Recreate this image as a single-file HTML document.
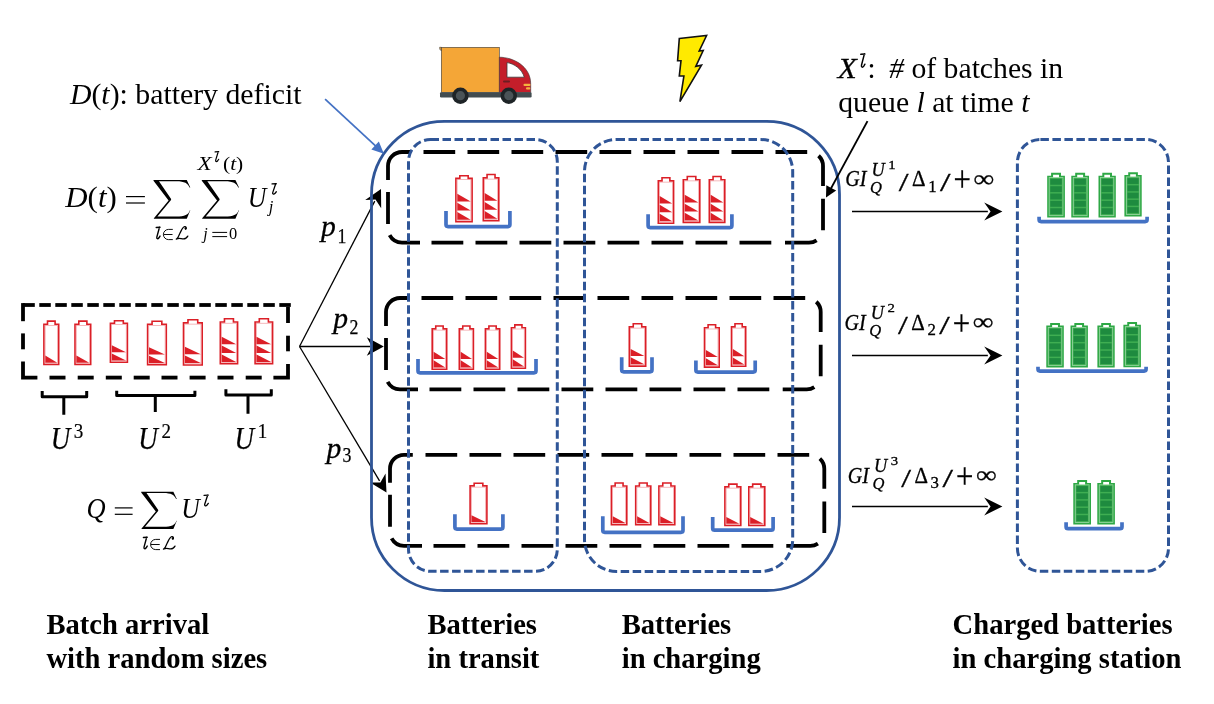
<!DOCTYPE html><html><head><meta charset="utf-8"><style>html,body{margin:0;padding:0;background:#fff;overflow:hidden}svg{display:block;will-change:transform}text{font-family:"Liberation Serif",serif}</style></head><body>
<svg width="1214" height="704" viewBox="0 0 1214 704">
<rect width="1214" height="704" fill="#fff"/>
<line x1="299.5" y1="346.5" x2="374.75" y2="201.08" stroke="#000" stroke-width="1.3"/>
<path d="M381 189L381.18 208.23L375.53 199.57L365.19 199.96Z" fill="#000"/>
<line x1="299.5" y1="346.5" x2="370.2" y2="346.5" stroke="#000" stroke-width="1.3"/>
<path d="M383.8 346.5L366.8 355.7L371.9 346.5L366.8 337.3Z" fill="#000"/>
<line x1="299.5" y1="346.5" x2="379.54" y2="480.91" stroke="#000" stroke-width="1.3"/>
<path d="M386.5 492.6L370.07 482.6L380.41 482.38L385.53 473.39Z" fill="#000"/>
<rect x="371.5" y="121.3" width="468" height="469.2" rx="73" fill="none" stroke="#2F5597" stroke-width="2.8"/>
<path d="M388 180V166A14 14 0 0 1 402 152H410.8M423.5 152H455.2M467.5 152H499.2M511.5 152H543.2M555.5 152H587.2M599.5 152H631.2M643.5 152H675.2M687.5 152H719.2M731.5 152H763.2M775.5 152H807.2M818.55 155.76A14 14 0 0 1 823 166V186M823 198.8V230.3M816.62 240.34A14 14 0 0 1 809 242.6H785M431.5 242.6H463.3M475.5 242.6H507.3M519.5 242.6H551.3M563.5 242.6H595.3M607.5 242.6H639.3M651.5 242.6H683.3M695.5 242.6H727.3M739.5 242.6H771.3M420 242.6H402A14 14 0 0 1 389.64 235.17M388 192V224" fill="none" stroke="#000" stroke-width="3.8"/>
<path d="M386 326V312A14 14 0 0 1 400 298H408.8M421.5 298H453.2M465.5 298H497.2M509.5 298H541.2M553.5 298H585.2M597.5 298H629.2M641.5 298H673.2M685.5 298H717.2M729.5 298H761.2M773.5 298H805.2M816.25 301.76A14 14 0 0 1 820.7 312V332M820.7 344.8V376.3M814.32 387.14A14 14 0 0 1 806.7 389.4H782.7M429.5 389.4H461.3M473.5 389.4H505.3M517.5 389.4H549.3M561.5 389.4H593.3M605.5 389.4H637.3M649.5 389.4H681.3M693.5 389.4H725.3M737.5 389.4H769.3M418 389.4H400A14 14 0 0 1 387.64 381.97M386 338V370" fill="none" stroke="#000" stroke-width="3.8"/>
<path d="M390 482.8V468.8A14 14 0 0 1 404 454.8H412.8M425.5 454.8H457.2M469.5 454.8H501.2M513.5 454.8H545.2M557.5 454.8H589.2M601.5 454.8H633.2M645.5 454.8H677.2M689.5 454.8H721.2M733.5 454.8H765.2M777.5 454.8H809.2M819.85 458.56A14 14 0 0 1 824.3 468.8V488.8M824.3 501.6V533.1M817.92 543.64A14 14 0 0 1 810.3 545.9H786.3M433.5 545.9H465.3M477.5 545.9H509.3M521.5 545.9H553.3M565.5 545.9H597.3M609.5 545.9H641.3M653.5 545.9H685.3M697.5 545.9H729.3M741.5 545.9H773.3M422 545.9H404A14 14 0 0 1 391.64 538.47M390 494.8V526.8" fill="none" stroke="#000" stroke-width="3.8"/>
<rect x="408.5" y="139.5" width="148.8" height="431.8" rx="22" fill="none" stroke="#2F5597" stroke-width="3" stroke-dasharray="8.5 3.5"/>
<rect x="584.5" y="139.5" width="208.2" height="431.9" rx="32" fill="none" stroke="#2F5597" stroke-width="3" stroke-dasharray="8.5 3.5"/>
<rect x="1017.4" y="139.4" width="151.1" height="431.9" rx="23" fill="none" stroke="#2F5597" stroke-width="3" stroke-dasharray="8.5 3.5"/>
<g stroke="#000" stroke-width="3.8" fill="none">
<line x1="23" y1="305" x2="34.8" y2="305"/>
<line x1="39.3" y1="305" x2="50.8" y2="305"/>
<line x1="55.3" y1="305" x2="66.8" y2="305"/>
<line x1="71.3" y1="305" x2="82.8" y2="305"/>
<line x1="87.3" y1="305" x2="98.8" y2="305"/>
<line x1="103.3" y1="305" x2="114.8" y2="305"/>
<line x1="119.3" y1="305" x2="130.8" y2="305"/>
<line x1="135.3" y1="305" x2="146.8" y2="305"/>
<line x1="151.3" y1="305" x2="162.8" y2="305"/>
<line x1="167.3" y1="305" x2="178.8" y2="305"/>
<line x1="183.3" y1="305" x2="194.8" y2="305"/>
<line x1="199.3" y1="305" x2="210.8" y2="305"/>
<line x1="215.3" y1="305" x2="226.8" y2="305"/>
<line x1="231.3" y1="305" x2="242.8" y2="305"/>
<line x1="247.3" y1="305" x2="258.8" y2="305"/>
<line x1="263.3" y1="305" x2="274.8" y2="305"/>
<line x1="279.3" y1="305" x2="290.8" y2="305"/>
<line x1="288" y1="307" x2="288" y2="323"/>
<line x1="288" y1="335.7" x2="288" y2="351.3"/>
<path d="M288 364V377.6H273.4"/>
<line x1="245.7" y1="377.6" x2="261.7" y2="377.6"/>
<line x1="217.5" y1="377.6" x2="233.5" y2="377.6"/>
<line x1="189.6" y1="377.6" x2="205.6" y2="377.6"/>
<line x1="161.5" y1="377.6" x2="177.5" y2="377.6"/>
<line x1="133.7" y1="377.6" x2="149.7" y2="377.6"/>
<line x1="105.8" y1="377.6" x2="121.8" y2="377.6"/>
<line x1="77.7" y1="377.6" x2="93.7" y2="377.6"/>
<line x1="49.5" y1="377.6" x2="65.5" y2="377.6"/>
<path d="M37.4 377.6H23V361.5"/>
<line x1="23" y1="333.4" x2="23" y2="349.3"/>
<line x1="23" y1="321.2" x2="23" y2="303.1"/>
</g>
<g stroke="#000" stroke-width="3" fill="none" stroke-linejoin="round">
<path d="M42.2 391V396.7H86.7V391M63.8 396.7V414.7"/>
<path d="M116.7 390.7V395.5H194.9V390.7M155.3 395.5V412.1"/>
<path d="M225.9 389.2V395H271.3V389.2M248 395V413.8"/>
</g>
<path d="M43.9 324.2H47.51V321.1H55.09V324.2H58.7V364.5H43.9Z" fill="#fff" stroke="#DB1F27" stroke-width="1.6"/>
<rect x="45.1" y="325.4" width="12.4" height="37.9" fill="none" stroke="#EE8A8F" stroke-width="0.6"/>
<path d="M45.3 355.48L45.3 362.68L57.3 362.68Z" fill="#DB1F27"/>
<path d="M75 324.2H78.81V321.1H86.89V324.2H90.7V364.5H75Z" fill="#fff" stroke="#DB1F27" stroke-width="1.6"/>
<rect x="76.2" y="325.4" width="13.3" height="37.9" fill="none" stroke="#EE8A8F" stroke-width="0.6"/>
<path d="M76.4 355.48L76.4 362.68L89.3 362.68Z" fill="#DB1F27"/>
<path d="M110.4 323.3H114.49V320.7H123.31V323.3H127.4V362.2H110.4Z" fill="#fff" stroke="#DB1F27" stroke-width="1.6"/>
<rect x="111.6" y="324.5" width="14.6" height="36.5" fill="none" stroke="#EE8A8F" stroke-width="0.6"/>
<path d="M111.8 353.51L111.8 360.47L126 360.47Z" fill="#DB1F27"/>
<path d="M111.8 345.28L111.8 352.24L126 352.24Z" fill="#DB1F27"/>
<path d="M147.6 324.3H152.07V321.2H161.83V324.3H166.3V364.8H147.6Z" fill="#fff" stroke="#DB1F27" stroke-width="1.6"/>
<rect x="148.8" y="325.5" width="16.3" height="38.1" fill="none" stroke="#EE8A8F" stroke-width="0.6"/>
<path d="M149 355.73L149 362.97L164.9 362.97Z" fill="#DB1F27"/>
<path d="M149 347.18L149 354.42L164.9 354.42Z" fill="#DB1F27"/>
<path d="M183.5 322.9H187.97V319.8H197.73V322.9H202.2V365H183.5Z" fill="#fff" stroke="#DB1F27" stroke-width="1.6"/>
<rect x="184.7" y="324.1" width="16.3" height="39.7" fill="none" stroke="#EE8A8F" stroke-width="0.6"/>
<path d="M184.9 355.56L184.9 363.07L200.8 363.07Z" fill="#DB1F27"/>
<path d="M184.9 346.68L184.9 354.19L200.8 354.19Z" fill="#DB1F27"/>
<path d="M220.3 322H224.46V318.8H233.44V322H237.6V363.8H220.3Z" fill="#fff" stroke="#DB1F27" stroke-width="1.6"/>
<rect x="221.5" y="323.2" width="14.9" height="39.4" fill="none" stroke="#EE8A8F" stroke-width="0.6"/>
<path d="M221.7 354.43L221.7 361.89L236.2 361.89Z" fill="#DB1F27"/>
<path d="M221.7 345.61L221.7 353.07L236.2 353.07Z" fill="#DB1F27"/>
<path d="M221.7 336.8L221.7 344.26L236.2 344.26Z" fill="#DB1F27"/>
<path d="M255.1 322H259.3V318.8H268.4V322H272.6V363.8H255.1Z" fill="#fff" stroke="#DB1F27" stroke-width="1.6"/>
<rect x="256.3" y="323.2" width="15.1" height="39.4" fill="none" stroke="#EE8A8F" stroke-width="0.6"/>
<path d="M256.5 354.43L256.5 361.89L271.2 361.89Z" fill="#DB1F27"/>
<path d="M256.5 345.61L256.5 353.07L271.2 353.07Z" fill="#DB1F27"/>
<path d="M256.5 336.8L256.5 344.26L271.2 344.26Z" fill="#DB1F27"/>
<path d="M455.9 178.4H459.82V175.7H468.18V178.4H472.1V221.7H455.9Z" fill="#fff" stroke="#DB1F27" stroke-width="1.6"/>
<rect x="457.1" y="179.6" width="13.8" height="40.9" fill="none" stroke="#EE8A8F" stroke-width="0.6"/>
<path d="M457.3 211.98L457.3 219.69L470.7 219.69Z" fill="#DB1F27"/>
<path d="M457.3 202.86L457.3 210.57L470.7 210.57Z" fill="#DB1F27"/>
<path d="M457.3 193.74L457.3 201.45L470.7 201.45Z" fill="#DB1F27"/>
<path d="M483.3 177.9H487.06V174.5H495.04V177.9H498.8V220.7H483.3Z" fill="#fff" stroke="#DB1F27" stroke-width="1.6"/>
<rect x="484.5" y="179.1" width="13.1" height="40.4" fill="none" stroke="#EE8A8F" stroke-width="0.6"/>
<path d="M484.7 211.09L484.7 218.72L497.4 218.72Z" fill="#DB1F27"/>
<path d="M484.7 202.07L484.7 209.71L497.4 209.71Z" fill="#DB1F27"/>
<path d="M484.7 193.06L484.7 200.69L497.4 200.69Z" fill="#DB1F27"/>
<path d="M446 210.9V224.6Q446 226.6 448 226.6H507.9Q509.9 226.6 509.9 224.6V210.9" fill="none" stroke="#4472C4" stroke-width="3.7"/>
<path d="M658.3 180.9H662.02V177.7H669.88V180.9H673.6V223.2H658.3Z" fill="#fff" stroke="#DB1F27" stroke-width="1.6"/>
<rect x="659.5" y="182.1" width="12.9" height="39.9" fill="none" stroke="#EE8A8F" stroke-width="0.6"/>
<path d="M659.7 213.71L659.7 221.26L672.2 221.26Z" fill="#DB1F27"/>
<path d="M659.7 204.79L659.7 212.34L672.2 212.34Z" fill="#DB1F27"/>
<path d="M659.7 195.88L659.7 203.42L672.2 203.42Z" fill="#DB1F27"/>
<path d="M683.3 179.7H687.28V176.5H695.82V179.7H699.8V222.4H683.3Z" fill="#fff" stroke="#DB1F27" stroke-width="1.6"/>
<rect x="684.5" y="180.9" width="14.1" height="40.3" fill="none" stroke="#EE8A8F" stroke-width="0.6"/>
<path d="M684.7 212.82L684.7 220.43L698.4 220.43Z" fill="#DB1F27"/>
<path d="M684.7 203.82L684.7 211.43L698.4 211.43Z" fill="#DB1F27"/>
<path d="M684.7 194.82L684.7 202.43L698.4 202.43Z" fill="#DB1F27"/>
<path d="M709.3 179.7H713.06V176.5H721.04V179.7H724.8V222.4H709.3Z" fill="#fff" stroke="#DB1F27" stroke-width="1.6"/>
<rect x="710.5" y="180.9" width="13.1" height="40.3" fill="none" stroke="#EE8A8F" stroke-width="0.6"/>
<path d="M710.7 212.82L710.7 220.43L723.4 220.43Z" fill="#DB1F27"/>
<path d="M710.7 203.82L710.7 211.43L723.4 211.43Z" fill="#DB1F27"/>
<path d="M710.7 194.82L710.7 202.43L723.4 202.43Z" fill="#DB1F27"/>
<path d="M648.1 214.2V225.6Q648.1 227.6 650.1 227.6H729.9Q731.9 227.6 731.9 225.6V214.2" fill="none" stroke="#4472C4" stroke-width="3.7"/>
<path d="M432.2 328.9H435.74V326H443.16V328.9H446.7V369.3H432.2Z" fill="#fff" stroke="#DB1F27" stroke-width="1.6"/>
<rect x="433.4" y="330.1" width="12.1" height="38" fill="none" stroke="#EE8A8F" stroke-width="0.6"/>
<path d="M433.6 360.26L433.6 367.48L445.3 367.48Z" fill="#DB1F27"/>
<path d="M433.6 351.73L433.6 358.94L445.3 358.94Z" fill="#DB1F27"/>
<path d="M459.3 328.9H462.75V326H469.95V328.9H473.4V369.3H459.3Z" fill="#fff" stroke="#DB1F27" stroke-width="1.6"/>
<rect x="460.5" y="330.1" width="11.7" height="38" fill="none" stroke="#EE8A8F" stroke-width="0.6"/>
<path d="M460.7 360.26L460.7 367.48L472 367.48Z" fill="#DB1F27"/>
<path d="M460.7 351.73L460.7 358.94L472 358.94Z" fill="#DB1F27"/>
<path d="M485.4 328.9H488.9V326H496.2V328.9H499.7V369.3H485.4Z" fill="#fff" stroke="#DB1F27" stroke-width="1.6"/>
<rect x="486.6" y="330.1" width="11.9" height="38" fill="none" stroke="#EE8A8F" stroke-width="0.6"/>
<path d="M486.8 360.26L486.8 367.48L498.3 367.48Z" fill="#DB1F27"/>
<path d="M486.8 351.73L486.8 358.94L498.3 358.94Z" fill="#DB1F27"/>
<path d="M511.4 327.8H514.83V324.9H521.97V327.8H525.4V368.2H511.4Z" fill="#fff" stroke="#DB1F27" stroke-width="1.6"/>
<rect x="512.6" y="329" width="11.6" height="38" fill="none" stroke="#EE8A8F" stroke-width="0.6"/>
<path d="M512.8 359.16L512.8 366.38L524 366.38Z" fill="#DB1F27"/>
<path d="M512.8 350.62L512.8 357.84L524 357.84Z" fill="#DB1F27"/>
<path d="M418 359.1V370.8Q418 372.8 420 372.8H534Q536 372.8 536 370.8V359.1" fill="none" stroke="#4472C4" stroke-width="3.7"/>
<path d="M629.3 326.9H633.26V323.8H641.74V326.9H645.7V366.1H629.3Z" fill="#fff" stroke="#DB1F27" stroke-width="1.6"/>
<rect x="630.5" y="328.1" width="14" height="36.8" fill="none" stroke="#EE8A8F" stroke-width="0.6"/>
<path d="M630.7 357.34L630.7 364.35L644.3 364.35Z" fill="#DB1F27"/>
<path d="M630.7 349.05L630.7 356.06L644.3 356.06Z" fill="#DB1F27"/>
<path d="M621.7 357.3V369.8Q621.7 371.8 623.7 371.8H650Q652 371.8 652 369.8V357.3" fill="none" stroke="#4472C4" stroke-width="3.7"/>
<path d="M704.5 327.8H708.09V324.7H715.61V327.8H719.2V367.1H704.5Z" fill="#fff" stroke="#DB1F27" stroke-width="1.6"/>
<rect x="705.7" y="329" width="12.3" height="36.9" fill="none" stroke="#EE8A8F" stroke-width="0.6"/>
<path d="M705.9 358.31L705.9 365.34L717.8 365.34Z" fill="#DB1F27"/>
<path d="M705.9 350.01L705.9 357.04L717.8 357.04Z" fill="#DB1F27"/>
<path d="M731.5 326.9H734.98V323.8H742.22V326.9H745.7V366.2H731.5Z" fill="#fff" stroke="#DB1F27" stroke-width="1.6"/>
<rect x="732.7" y="328.1" width="11.8" height="36.9" fill="none" stroke="#EE8A8F" stroke-width="0.6"/>
<path d="M732.9 357.41L732.9 364.44L744.3 364.44Z" fill="#DB1F27"/>
<path d="M732.9 349.11L732.9 356.14L744.3 356.14Z" fill="#DB1F27"/>
<path d="M695.9 360.5V370.1Q695.9 372.1 697.9 372.1H753.2Q755.2 372.1 755.2 370.1V360.5" fill="none" stroke="#4472C4" stroke-width="3.7"/>
<path d="M470.1 485.9H474.15V483.2H482.85V485.9H486.9V523.7H470.1Z" fill="#fff" stroke="#DB1F27" stroke-width="1.6"/>
<rect x="471.3" y="487.1" width="14.4" height="35.4" fill="none" stroke="#EE8A8F" stroke-width="0.6"/>
<path d="M471.5 515.27L471.5 522.04L485.5 522.04Z" fill="#DB1F27"/>
<path d="M454.9 514.2V527.1Q454.9 529.1 456.9 529.1H500.9Q502.9 529.1 502.9 527.1V514.2" fill="none" stroke="#4472C4" stroke-width="3.7"/>
<path d="M611.4 486H615.14V483H623.06V486H626.8V524.8H611.4Z" fill="#fff" stroke="#DB1F27" stroke-width="1.6"/>
<rect x="612.6" y="487.2" width="13" height="36.4" fill="none" stroke="#EE8A8F" stroke-width="0.6"/>
<path d="M612.8 516.13L612.8 523.08L625.4 523.08Z" fill="#DB1F27"/>
<path d="M635.7 486H639.37V483H647.13V486H650.8V524.8H635.7Z" fill="#fff" stroke="#DB1F27" stroke-width="1.6"/>
<rect x="636.9" y="487.2" width="12.7" height="36.4" fill="none" stroke="#EE8A8F" stroke-width="0.6"/>
<path d="M637.1 516.13L637.1 523.08L649.4 523.08Z" fill="#DB1F27"/>
<path d="M658.9 486H662.75V483H670.95V486H674.8V524.8H658.9Z" fill="#fff" stroke="#DB1F27" stroke-width="1.6"/>
<rect x="660.1" y="487.2" width="13.5" height="36.4" fill="none" stroke="#EE8A8F" stroke-width="0.6"/>
<path d="M660.3 516.13L660.3 523.08L673.4 523.08Z" fill="#DB1F27"/>
<path d="M602.8 516.2V530.3Q602.8 532.3 604.8 532.3H681Q683 532.3 683 530.3V516.2" fill="none" stroke="#4472C4" stroke-width="3.7"/>
<path d="M724.9 486.9H728.75V484.1H736.95V486.9H740.8V525.5H724.9Z" fill="#fff" stroke="#DB1F27" stroke-width="1.6"/>
<rect x="726.1" y="488.1" width="13.5" height="36.2" fill="none" stroke="#EE8A8F" stroke-width="0.6"/>
<path d="M726.3 516.88L726.3 523.79L739.4 523.79Z" fill="#DB1F27"/>
<path d="M748.8 486.9H752.67V484.1H760.93V486.9H764.8V525.5H748.8Z" fill="#fff" stroke="#DB1F27" stroke-width="1.6"/>
<rect x="750" y="488.1" width="13.6" height="36.2" fill="none" stroke="#EE8A8F" stroke-width="0.6"/>
<path d="M750.2 516.88L750.2 523.79L763.4 523.79Z" fill="#DB1F27"/>
<path d="M712.7 517V528.2Q712.7 530.2 714.7 530.2H771.1Q773.1 530.2 773.1 528.2V517" fill="none" stroke="#4472C4" stroke-width="3.7"/>
<path d="M1048.2 176.7H1052.09V173.8H1060.01V176.7H1063.9V216.6H1048.2Z" fill="#fff" stroke="#2EA845" stroke-width="2.0"/>
<rect x="1049.1" y="177.6" width="13.9" height="38.1" fill="#3FAE52" stroke="#9AD6A3" stroke-width="0.7"/>
<rect x="1050.3" y="178.9" width="11.5" height="5.84" fill="#1E8B3F"/>
<rect x="1050.3" y="186.24" width="11.5" height="5.84" fill="#1E8B3F"/>
<rect x="1050.3" y="193.58" width="11.5" height="5.84" fill="#1E8B3F"/>
<rect x="1050.3" y="200.92" width="11.5" height="5.84" fill="#1E8B3F"/>
<rect x="1050.3" y="208.26" width="11.5" height="5.84" fill="#1E8B3F"/>
<path d="M1072.3 176.7H1076.19V173.8H1084.11V176.7H1088V216.6H1072.3Z" fill="#fff" stroke="#2EA845" stroke-width="2.0"/>
<rect x="1073.2" y="177.6" width="13.9" height="38.1" fill="#3FAE52" stroke="#9AD6A3" stroke-width="0.7"/>
<rect x="1074.4" y="178.9" width="11.5" height="5.84" fill="#1E8B3F"/>
<rect x="1074.4" y="186.24" width="11.5" height="5.84" fill="#1E8B3F"/>
<rect x="1074.4" y="193.58" width="11.5" height="5.84" fill="#1E8B3F"/>
<rect x="1074.4" y="200.92" width="11.5" height="5.84" fill="#1E8B3F"/>
<rect x="1074.4" y="208.26" width="11.5" height="5.84" fill="#1E8B3F"/>
<path d="M1099.5 176.7H1103.31V173.8H1110.99V176.7H1114.8V216.6H1099.5Z" fill="#fff" stroke="#2EA845" stroke-width="2.0"/>
<rect x="1100.4" y="177.6" width="13.5" height="38.1" fill="#3FAE52" stroke="#9AD6A3" stroke-width="0.7"/>
<rect x="1101.6" y="178.9" width="11.1" height="5.84" fill="#1E8B3F"/>
<rect x="1101.6" y="186.24" width="11.1" height="5.84" fill="#1E8B3F"/>
<rect x="1101.6" y="193.58" width="11.1" height="5.84" fill="#1E8B3F"/>
<rect x="1101.6" y="200.92" width="11.1" height="5.84" fill="#1E8B3F"/>
<rect x="1101.6" y="208.26" width="11.1" height="5.84" fill="#1E8B3F"/>
<path d="M1125.4 176H1129.21V173.2H1136.89V176H1140.7V215.4H1125.4Z" fill="#fff" stroke="#2EA845" stroke-width="2.0"/>
<rect x="1126.3" y="176.9" width="13.5" height="37.6" fill="#3FAE52" stroke="#9AD6A3" stroke-width="0.7"/>
<rect x="1127.5" y="178.2" width="11.1" height="5.74" fill="#1E8B3F"/>
<rect x="1127.5" y="185.44" width="11.1" height="5.74" fill="#1E8B3F"/>
<rect x="1127.5" y="192.68" width="11.1" height="5.74" fill="#1E8B3F"/>
<rect x="1127.5" y="199.92" width="11.1" height="5.74" fill="#1E8B3F"/>
<rect x="1127.5" y="207.16" width="11.1" height="5.74" fill="#1E8B3F"/>
<path d="M1039.1 216.8V219.6Q1039.1 221.6 1041.1 221.6H1145.1Q1147.1 221.6 1147.1 219.6V216.8" fill="none" stroke="#4472C4" stroke-width="3.7"/>
<path d="M1047.3 326.5H1051.15V324H1058.95V326.5H1062.8V366.5H1047.3Z" fill="#fff" stroke="#2EA845" stroke-width="2.0"/>
<rect x="1048.2" y="327.4" width="13.7" height="38.2" fill="#3FAE52" stroke="#9AD6A3" stroke-width="0.7"/>
<rect x="1049.4" y="328.7" width="11.3" height="5.86" fill="#1E8B3F"/>
<rect x="1049.4" y="336.06" width="11.3" height="5.86" fill="#1E8B3F"/>
<rect x="1049.4" y="343.42" width="11.3" height="5.86" fill="#1E8B3F"/>
<rect x="1049.4" y="350.78" width="11.3" height="5.86" fill="#1E8B3F"/>
<rect x="1049.4" y="358.14" width="11.3" height="5.86" fill="#1E8B3F"/>
<path d="M1071.5 326.5H1075.33V324H1083.07V326.5H1086.9V366.5H1071.5Z" fill="#fff" stroke="#2EA845" stroke-width="2.0"/>
<rect x="1072.4" y="327.4" width="13.6" height="38.2" fill="#3FAE52" stroke="#9AD6A3" stroke-width="0.7"/>
<rect x="1073.6" y="328.7" width="11.2" height="5.86" fill="#1E8B3F"/>
<rect x="1073.6" y="336.06" width="11.2" height="5.86" fill="#1E8B3F"/>
<rect x="1073.6" y="343.42" width="11.2" height="5.86" fill="#1E8B3F"/>
<rect x="1073.6" y="350.78" width="11.2" height="5.86" fill="#1E8B3F"/>
<rect x="1073.6" y="358.14" width="11.2" height="5.86" fill="#1E8B3F"/>
<path d="M1098.4 326.5H1102.21V324H1109.89V326.5H1113.7V366.5H1098.4Z" fill="#fff" stroke="#2EA845" stroke-width="2.0"/>
<rect x="1099.3" y="327.4" width="13.5" height="38.2" fill="#3FAE52" stroke="#9AD6A3" stroke-width="0.7"/>
<rect x="1100.5" y="328.7" width="11.1" height="5.86" fill="#1E8B3F"/>
<rect x="1100.5" y="336.06" width="11.1" height="5.86" fill="#1E8B3F"/>
<rect x="1100.5" y="343.42" width="11.1" height="5.86" fill="#1E8B3F"/>
<rect x="1100.5" y="350.78" width="11.1" height="5.86" fill="#1E8B3F"/>
<rect x="1100.5" y="358.14" width="11.1" height="5.86" fill="#1E8B3F"/>
<path d="M1124.4 325.8H1128.25V323H1136.05V325.8H1139.9V366.3H1124.4Z" fill="#fff" stroke="#2EA845" stroke-width="2.0"/>
<rect x="1125.3" y="326.7" width="13.7" height="38.7" fill="#3FAE52" stroke="#9AD6A3" stroke-width="0.7"/>
<rect x="1126.5" y="328" width="11.3" height="5.96" fill="#1E8B3F"/>
<rect x="1126.5" y="335.46" width="11.3" height="5.96" fill="#1E8B3F"/>
<rect x="1126.5" y="342.92" width="11.3" height="5.96" fill="#1E8B3F"/>
<rect x="1126.5" y="350.38" width="11.3" height="5.96" fill="#1E8B3F"/>
<rect x="1126.5" y="357.84" width="11.3" height="5.96" fill="#1E8B3F"/>
<path d="M1038 366.8V369.1Q1038 371.1 1040 371.1H1144.1Q1146.1 371.1 1146.1 369.1V366.8" fill="none" stroke="#4472C4" stroke-width="3.7"/>
<path d="M1074.3 483.9H1078.19V481H1086.11V483.9H1090V523.5H1074.3Z" fill="#fff" stroke="#2EA845" stroke-width="2.0"/>
<rect x="1075.2" y="484.8" width="13.9" height="37.8" fill="#3FAE52" stroke="#9AD6A3" stroke-width="0.7"/>
<rect x="1076.4" y="486.1" width="11.5" height="5.78" fill="#1E8B3F"/>
<rect x="1076.4" y="493.38" width="11.5" height="5.78" fill="#1E8B3F"/>
<rect x="1076.4" y="500.66" width="11.5" height="5.78" fill="#1E8B3F"/>
<rect x="1076.4" y="507.94" width="11.5" height="5.78" fill="#1E8B3F"/>
<rect x="1076.4" y="515.22" width="11.5" height="5.78" fill="#1E8B3F"/>
<path d="M1098.3 483.9H1102.17V481H1110.03V483.9H1113.9V523.5H1098.3Z" fill="#fff" stroke="#2EA845" stroke-width="2.0"/>
<rect x="1099.2" y="484.8" width="13.8" height="37.8" fill="#3FAE52" stroke="#9AD6A3" stroke-width="0.7"/>
<rect x="1100.4" y="486.1" width="11.4" height="5.78" fill="#1E8B3F"/>
<rect x="1100.4" y="493.38" width="11.4" height="5.78" fill="#1E8B3F"/>
<rect x="1100.4" y="500.66" width="11.4" height="5.78" fill="#1E8B3F"/>
<rect x="1100.4" y="507.94" width="11.4" height="5.78" fill="#1E8B3F"/>
<rect x="1100.4" y="515.22" width="11.4" height="5.78" fill="#1E8B3F"/>
<path d="M1066.1 522.2V526.7Q1066.1 528.7 1068.1 528.7H1120Q1122 528.7 1122 526.7V522.2" fill="none" stroke="#4472C4" stroke-width="3.7"/>
<line x1="852" y1="211.5" x2="987.84" y2="211.5" stroke="#000" stroke-width="1.3"/>
<path d="M1002.4 211.5L984.2 220.4L990.57 211.5L984.2 202.6Z" fill="#000"/>
<line x1="852" y1="355.5" x2="987.84" y2="355.5" stroke="#000" stroke-width="1.3"/>
<path d="M1002.4 355.5L984.2 364.4L990.57 355.5L984.2 346.6Z" fill="#000"/>
<line x1="852" y1="506.5" x2="987.84" y2="506.5" stroke="#000" stroke-width="1.3"/>
<path d="M1002.4 506.5L984.2 515.4L990.57 506.5L984.2 497.6Z" fill="#000"/>
<line x1="325.1" y1="99.2" x2="376.86" y2="147.22" stroke="#4472C4" stroke-width="1.75"/>
<path d="M383.9 153.75L371.36 149.62L375.1 145.59L378.84 141.56Z" fill="#4472C4"/>
<line x1="867.5" y1="121.1" x2="830.2" y2="189.86" stroke="#000" stroke-width="1.9"/>
<path d="M826 197.6L826.32 185.26L831.25 187.93L836.17 190.6Z" fill="#000"/>
<g stroke="#3a3a3a" stroke-width="0.6">
<rect x="441.3" y="47.3" width="58" height="45" fill="#F4A637"/>
<path d="M441.3 47.3H439.6Q439.2 49.5 441.3 50.8Z" fill="#F4A637"/>
<path d="M499.3 57.2 C513 57.2 530.7 66 530.7 84 V92.5 H499.3Z" fill="#C41E2A"/>
<path d="M507 62.6 C514 63.5 522 69 524.3 77.2 H507Z" fill="#fff" stroke="#3a3a3a" stroke-width="0.8"/>
</g>
<rect x="503" y="80.6" width="7" height="2" rx="1" fill="#6b1d22"/>
<rect x="523.5" y="83.8" width="7" height="2.2" rx="1" fill="#F4B33F"/>
<rect x="526" y="87.2" width="4.3" height="2.2" rx="1" fill="#F4B33F"/>
<rect x="440" y="92.2" width="91.6" height="5.3" rx="1.2" fill="#424C50"/>
<circle cx="460.4" cy="95.7" r="8.2" fill="#1E2427"/><circle cx="460.4" cy="95.7" r="4.6" fill="#4A5357"/>
<circle cx="508.8" cy="95.7" r="8.2" fill="#1E2427"/><circle cx="508.8" cy="95.7" r="4.6" fill="#4A5357"/>
<path d="M679.3 38.5L706.6 35.5L699.2 51L703.2 50.5L695.8 66.4L701.5 65.2L679.9 101.6L683.9 76L679.3 76L681 60.7L677.6 60.7Z" fill="#FFEA00" stroke="#111" stroke-width="1.6" stroke-linejoin="miter"/>
<text x="69.9" y="103.9" font-size="29.8" ><tspan font-style="italic">D</tspan>(<tspan font-style="italic">t</tspan>): battery deficit</text>
<text x="837.7" y="77.6" font-size="29" textLength="19" lengthAdjust="spacingAndGlyphs" font-style="italic" stroke="#000" stroke-width="0.3">X</text>
<path d="M860.82 54.34L864.91 54.06M864.34 54.06L861.48 65.26C861.04 67.36 862.58 67.78 863.77 66.1L864.91 64.14" fill="none" stroke="#000" stroke-width="1.45" stroke-linecap="round"/>
<text x="867.4" y="77.6" font-size="29" >:</text>
<text x="889.2" y="77.6" font-size="29.7" ><tspan font-style="italic">#</tspan> of batches in</text>
<text x="838.2" y="111.9" font-size="29.7" >queue <tspan font-style="italic">l</tspan> at time <tspan font-style="italic">t</tspan></text>
<text x="46.4" y="633.8" font-size="28.6" font-weight="bold">Batch arrival</text>
<text x="46.4" y="668.1" font-size="28.6" font-weight="bold">with random sizes</text>
<text x="427.4" y="633.8" font-size="28.6" font-weight="bold">Batteries</text>
<text x="427.4" y="668.1" font-size="28.6" font-weight="bold">in transit</text>
<text x="621.7" y="633.8" font-size="28.6" font-weight="bold">Batteries</text>
<text x="621.7" y="668.1" font-size="28.6" font-weight="bold">in charging</text>
<text x="952.6" y="634.2" font-size="28.6" font-weight="bold">Charged batteries</text>
<text x="952.6" y="668.1" font-size="28.6" font-weight="bold">in charging station</text>
<text x="65.3" y="206.5" font-size="28.5" textLength="51.5" lengthAdjust="spacingAndGlyphs" ><tspan font-style="italic">D</tspan>(<tspan font-style="italic">t</tspan>)</text>
<rect x="126" y="196" width="18.9" height="1.2"/><rect x="126" y="202.4" width="18.9" height="1.2"/>
<path transform="translate(153.5 179.9) scale(36.8 38.9)" d="M0 0L0.904 0L1 0.197L0.979 0.197C0.93 0.09 0.85 0.036 0.62 0.036L0.149 0.036L0.479 0.49L0.476 0.515L0.106 0.94L0.62 0.94C0.85 0.94 0.95 0.9 0.99 0.78L1 0.78L0.904 1L0.01 1L0.01 0.985L0.41 0.53L0 0.02Z" fill="#000"/>
<path transform="translate(201.8 179.9) scale(37.2 38.9)" d="M0 0L0.904 0L1 0.197L0.979 0.197C0.93 0.09 0.85 0.036 0.62 0.036L0.149 0.036L0.479 0.49L0.476 0.515L0.106 0.94L0.62 0.94C0.85 0.94 0.95 0.9 0.99 0.78L1 0.78L0.904 1L0.01 1L0.01 0.985L0.41 0.53L0 0.02Z" fill="#000"/>
<text x="247.8" y="206.7" font-size="28.5" textLength="18.6" lengthAdjust="spacingAndGlyphs" font-style="italic">U</text>
<path d="M272.03 183.97L276.31 183.74M275.71 183.74L272.72 192.62C272.26 194.29 273.87 194.62 275.11 193.29L276.31 191.74" fill="none" stroke="#000" stroke-width="1.28" stroke-linecap="round"/>
<text x="268.8" y="211.8" font-size="16.5" font-style="italic">j</text>
<text x="197.4" y="169.6" font-size="18.5" textLength="14.2" lengthAdjust="spacingAndGlyphs" font-style="italic">X</text>
<path d="M215.09 151.93L218.72 151.72M218.22 151.72L215.68 160.12C215.29 161.7 216.66 162.01 217.71 160.75L218.72 159.28" fill="none" stroke="#000" stroke-width="1.21" stroke-linecap="round"/>
<text x="223" y="170.2" font-size="18.5" textLength="20.3" lengthAdjust="spacingAndGlyphs" >(<tspan font-style="italic">t</tspan>)</text>
<path d="M156.21 227.53L160.02 227.29M159.49 227.29L156.82 237.05C156.41 238.88 157.84 239.24 158.95 237.78L160.02 236.07" fill="none" stroke="#000" stroke-width="1.4" stroke-linecap="round"/>
<g transform="translate(0 0)" fill="none" stroke="#000">
<path d="M172.8 229.4H168.5A5.1 5.1 0 0 0 168.5 239.6H172.8M163.6 234.5H172.5" stroke-width="0.95"/>
<path d="M185.6 229.2C186.8 228.2 186.2 226.4 184.6 226.6C182.4 226.9 181.2 231 179.8 233.5C178.8 235.5 178.3 237.6 177.0 238.5C176.2 239.1 175.9 239.4 176.6 239.0C179 237.8 181 238.9 183.5 238.9C185.5 238.9 187 237.6 187.8 236.1" stroke-width="1.25" stroke-linecap="round"/>
<circle cx="185.6" cy="228.4" r="1.15" fill="#000" stroke="none"/>
</g>
<text x="203.3" y="239.1" font-size="16" font-style="italic">j</text>
<rect x="212.3" y="231.9" width="14.8" height="1"/><rect x="212.3" y="236.1" width="14.8" height="1"/>
<text x="229" y="239.1" font-size="16" textLength="8.2" lengthAdjust="spacingAndGlyphs" >0</text>
<text x="86.6" y="517.7" font-size="28.5" textLength="19.1" lengthAdjust="spacingAndGlyphs" font-style="italic">Q</text>
<rect x="114.8" y="507.3" width="17.8" height="1.2"/><rect x="114.8" y="513.7" width="17.8" height="1.2"/>
<path transform="translate(141.2 491.7) scale(35.6 37.3)" d="M0 0L0.904 0L1 0.197L0.979 0.197C0.93 0.09 0.85 0.036 0.62 0.036L0.149 0.036L0.479 0.49L0.476 0.515L0.106 0.94L0.62 0.94C0.85 0.94 0.95 0.9 0.99 0.78L1 0.78L0.904 1L0.01 1L0.01 0.985L0.41 0.53L0 0.02Z" fill="#000"/>
<text x="181.3" y="517.7" font-size="28.5" textLength="18.5" lengthAdjust="spacingAndGlyphs" font-style="italic">U</text>
<path d="M204.03 495.29L208.31 495.06M207.71 495.06L204.72 504.26C204.26 505.99 205.87 506.33 207.11 504.95L208.31 503.34" fill="none" stroke="#000" stroke-width="1.32" stroke-linecap="round"/>
<path d="M143.41 537.53L147.22 537.29M146.69 537.29L144.02 547.05C143.61 548.88 145.04 549.24 146.15 547.78L147.22 546.07" fill="none" stroke="#000" stroke-width="1.4" stroke-linecap="round"/>
<g transform="translate(-12.8 310)" fill="none" stroke="#000">
<path d="M172.8 229.4H168.5A5.1 5.1 0 0 0 168.5 239.6H172.8M163.6 234.5H172.5" stroke-width="0.95"/>
<path d="M185.6 229.2C186.8 228.2 186.2 226.4 184.6 226.6C182.4 226.9 181.2 231 179.8 233.5C178.8 235.5 178.3 237.6 177.0 238.5C176.2 239.1 175.9 239.4 176.6 239.0C179 237.8 181 238.9 183.5 238.9C185.5 238.9 187 237.6 187.8 236.1" stroke-width="1.25" stroke-linecap="round"/>
<circle cx="185.6" cy="228.4" r="1.15" fill="#000" stroke="none"/>
</g>
<text x="50.7" y="448.8" font-size="31.5" textLength="19.5" lengthAdjust="spacingAndGlyphs" font-style="italic" stroke="#000" stroke-width="0.25">U</text>
<text x="73.8" y="437.9" font-size="20.6" textLength="9.5" lengthAdjust="spacingAndGlyphs"  stroke="#000" stroke-width="0.2">3</text>
<text x="138.3" y="448.8" font-size="31.5" textLength="19.5" lengthAdjust="spacingAndGlyphs" font-style="italic" stroke="#000" stroke-width="0.25">U</text>
<text x="161.4" y="437.9" font-size="20.6" textLength="9.5" lengthAdjust="spacingAndGlyphs"  stroke="#000" stroke-width="0.2">2</text>
<text x="234.6" y="448.8" font-size="31.5" textLength="19.5" lengthAdjust="spacingAndGlyphs" font-style="italic" stroke="#000" stroke-width="0.25">U</text>
<text x="257.7" y="437.9" font-size="20.6" textLength="9.5" lengthAdjust="spacingAndGlyphs"  stroke="#000" stroke-width="0.2">1</text>
<text x="320.9" y="235.6" font-size="29.5" textLength="14.8" lengthAdjust="spacingAndGlyphs" font-style="italic" stroke="#000" stroke-width="0.3">p</text>
<text x="337.6" y="242.9" font-size="20.4" textLength="8.9" lengthAdjust="spacingAndGlyphs"  stroke="#000" stroke-width="0.25">1</text>
<text x="333.2" y="328.4" font-size="29.5" textLength="14.8" lengthAdjust="spacingAndGlyphs" font-style="italic" stroke="#000" stroke-width="0.3">p</text>
<text x="349.6" y="334" font-size="20.4" textLength="8.9" lengthAdjust="spacingAndGlyphs"  stroke="#000" stroke-width="0.25">2</text>
<text x="326.6" y="457.9" font-size="29.5" textLength="14.8" lengthAdjust="spacingAndGlyphs" font-style="italic" stroke="#000" stroke-width="0.3">p</text>
<text x="342.6" y="462.2" font-size="20.4" textLength="8.9" lengthAdjust="spacingAndGlyphs"  stroke="#000" stroke-width="0.25">3</text>
<text x="845.3" y="186.3" font-size="24" textLength="21.3" lengthAdjust="spacingAndGlyphs" font-style="italic" stroke="#000" stroke-width="0.3">GI</text>
<text x="871.6" y="175.9" font-size="19.5" textLength="13.2" lengthAdjust="spacingAndGlyphs" font-style="italic" stroke="#000" stroke-width="0.3">U</text>
<text x="888.3" y="169" font-size="12.7" textLength="7.4" lengthAdjust="spacingAndGlyphs"  stroke="#000" stroke-width="0.3">1</text>
<text x="870.1" y="192.7" font-size="17" textLength="11.9" lengthAdjust="spacingAndGlyphs" font-style="italic" stroke="#000" stroke-width="0.3">Q</text>
<text x="898.8" y="191" font-size="26" textLength="9.8" lengthAdjust="spacingAndGlyphs"  stroke="#000" stroke-width="0.3">/</text>
<text x="912" y="186.3" font-size="23.5" textLength="13.5" lengthAdjust="spacingAndGlyphs"  stroke="#000" stroke-width="0.3">&#916;</text>
<text x="928.2" y="192" font-size="16.3" textLength="8.4" lengthAdjust="spacingAndGlyphs"  stroke="#000" stroke-width="0.3">1</text>
<text x="940.1" y="191" font-size="26" textLength="10.5" lengthAdjust="spacingAndGlyphs"  stroke="#000" stroke-width="0.3">/</text>
<text x="953.6" y="191.3" font-size="35" textLength="17.4" lengthAdjust="spacingAndGlyphs"  stroke="#000" stroke-width="0.3">+</text>
<text x="973.5" y="187" font-size="24.5" textLength="20.6" lengthAdjust="spacingAndGlyphs"  stroke="#000" stroke-width="0.3">&#8734;</text>
<text x="844.5" y="329.5" font-size="24" textLength="21.3" lengthAdjust="spacingAndGlyphs" font-style="italic" stroke="#000" stroke-width="0.3">GI</text>
<text x="870.8" y="319.1" font-size="19.5" textLength="13.2" lengthAdjust="spacingAndGlyphs" font-style="italic" stroke="#000" stroke-width="0.3">U</text>
<text x="887.5" y="312.2" font-size="12.7" textLength="7.4" lengthAdjust="spacingAndGlyphs"  stroke="#000" stroke-width="0.3">2</text>
<text x="869.3" y="335.9" font-size="17" textLength="11.9" lengthAdjust="spacingAndGlyphs" font-style="italic" stroke="#000" stroke-width="0.3">Q</text>
<text x="898" y="334.2" font-size="26" textLength="9.8" lengthAdjust="spacingAndGlyphs"  stroke="#000" stroke-width="0.3">/</text>
<text x="911.2" y="329.5" font-size="23.5" textLength="13.5" lengthAdjust="spacingAndGlyphs"  stroke="#000" stroke-width="0.3">&#916;</text>
<text x="927.4" y="335.2" font-size="16.3" textLength="8.4" lengthAdjust="spacingAndGlyphs"  stroke="#000" stroke-width="0.3">2</text>
<text x="939.3" y="334.2" font-size="26" textLength="10.5" lengthAdjust="spacingAndGlyphs"  stroke="#000" stroke-width="0.3">/</text>
<text x="952.8" y="334.5" font-size="35" textLength="17.4" lengthAdjust="spacingAndGlyphs"  stroke="#000" stroke-width="0.3">+</text>
<text x="972.7" y="330.2" font-size="24.5" textLength="20.6" lengthAdjust="spacingAndGlyphs"  stroke="#000" stroke-width="0.3">&#8734;</text>
<text x="847.7" y="482.5" font-size="24" textLength="21.3" lengthAdjust="spacingAndGlyphs" font-style="italic" stroke="#000" stroke-width="0.3">GI</text>
<text x="874" y="472.1" font-size="19.5" textLength="13.2" lengthAdjust="spacingAndGlyphs" font-style="italic" stroke="#000" stroke-width="0.3">U</text>
<text x="890.7" y="465.2" font-size="12.7" textLength="7.4" lengthAdjust="spacingAndGlyphs"  stroke="#000" stroke-width="0.3">3</text>
<text x="872.5" y="488.9" font-size="17" textLength="11.9" lengthAdjust="spacingAndGlyphs" font-style="italic" stroke="#000" stroke-width="0.3">Q</text>
<text x="901.2" y="487.2" font-size="26" textLength="9.8" lengthAdjust="spacingAndGlyphs"  stroke="#000" stroke-width="0.3">/</text>
<text x="914.4" y="482.5" font-size="23.5" textLength="13.5" lengthAdjust="spacingAndGlyphs"  stroke="#000" stroke-width="0.3">&#916;</text>
<text x="930.6" y="488.2" font-size="16.3" textLength="8.4" lengthAdjust="spacingAndGlyphs"  stroke="#000" stroke-width="0.3">3</text>
<text x="942.5" y="487.2" font-size="26" textLength="10.5" lengthAdjust="spacingAndGlyphs"  stroke="#000" stroke-width="0.3">/</text>
<text x="956" y="487.5" font-size="35" textLength="17.4" lengthAdjust="spacingAndGlyphs"  stroke="#000" stroke-width="0.3">+</text>
<text x="975.9" y="483.2" font-size="24.5" textLength="20.6" lengthAdjust="spacingAndGlyphs"  stroke="#000" stroke-width="0.3">&#8734;</text>
</svg></body></html>
